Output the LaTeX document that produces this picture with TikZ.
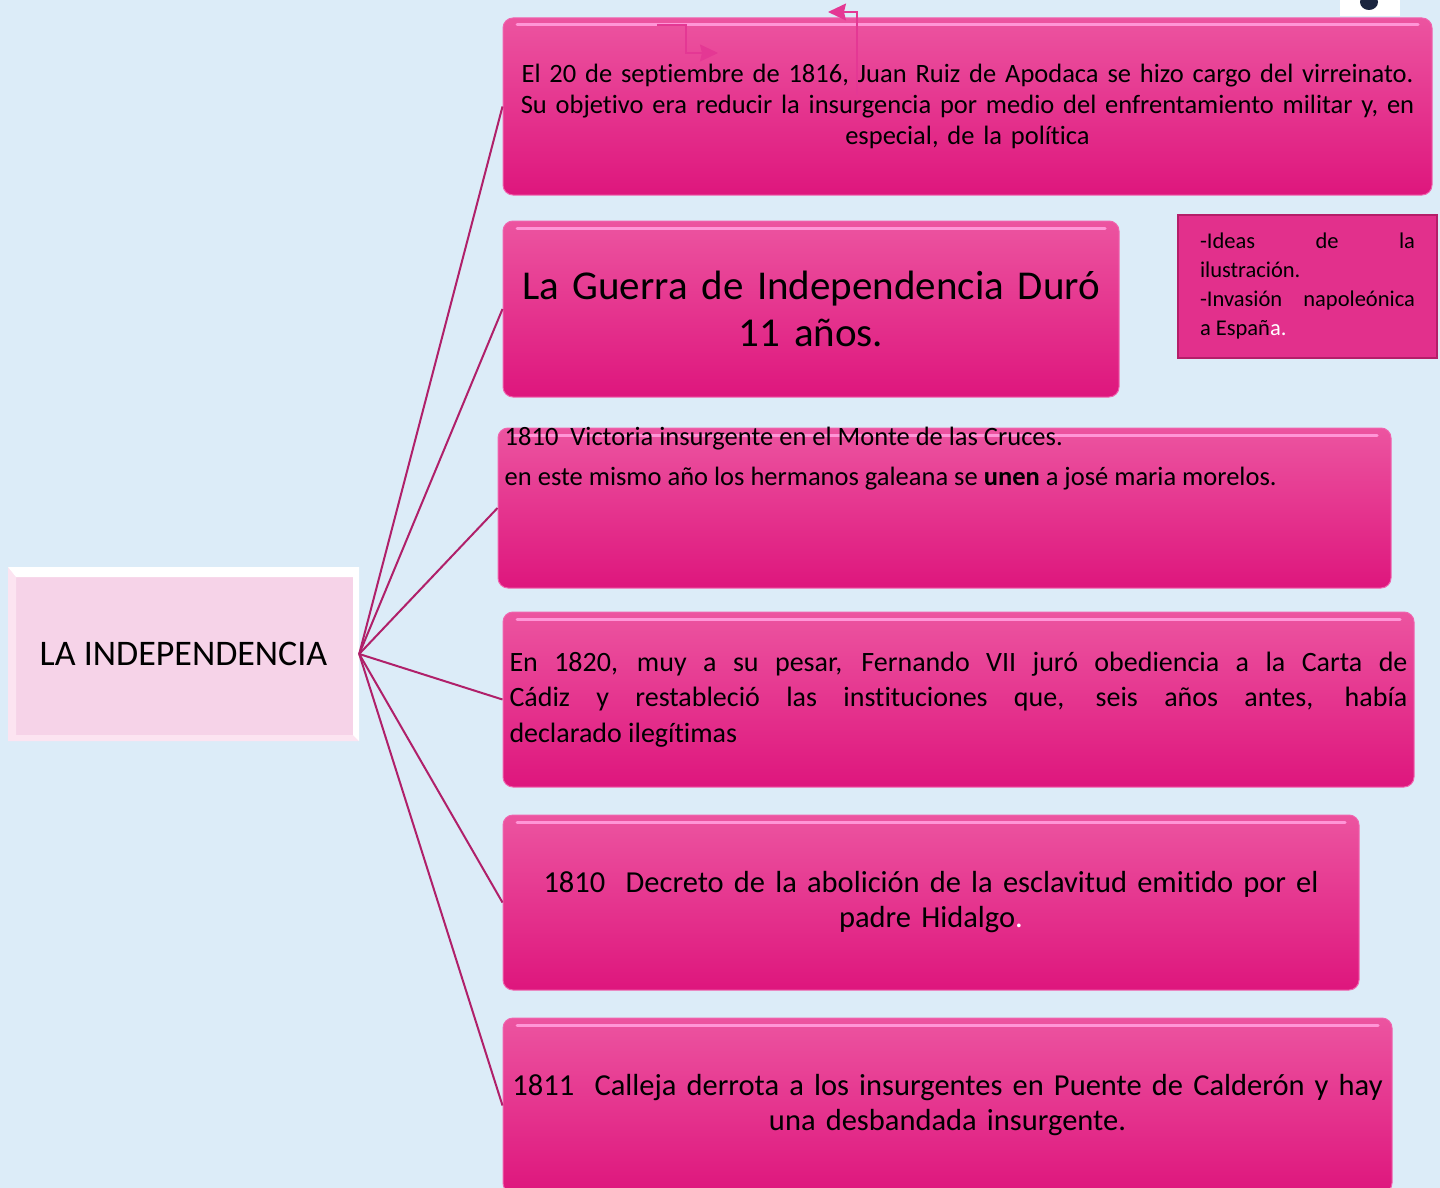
\documentclass[tikz,border=0pt]{standalone}
\usepackage{fontspec}
\setmainfont{Carlito}[Ligatures=NoCommon]
\usetikzlibrary{arrows.meta}
\definecolor{fondo}{RGB}{220,236,248}
\definecolor{rosaA}{RGB}{236,84,160}
\definecolor{rosaB}{RGB}{222,22,125}
\definecolor{brillo}{RGB}{255,150,215}
\definecolor{bordeRosa}{RGB}{240,100,175}
\definecolor{ramaColor}{RGB}{176,32,106}
\definecolor{centroRelleno}{RGB}{246,211,232}
\definecolor{centroBisel}{RGB}{252,228,241}
\definecolor{causasRelleno}{RGB}{226,48,140}
\definecolor{causasBorde}{RGB}{180,30,105}
\definecolor{flechaRosa}{RGB}{228,56,148}
\definecolor{marino}{RGB}{26,36,62}
\hyphenpenalty=10000
\exhyphenpenalty=10000
\tikzset{
  evento/.style={draw=bordeRosa, line width=1pt, rounded corners=10, top color=rosaA, bottom color=rosaB,
    inner xsep=0, inner ysep=0,
    path picture={\draw[brillo, line width=3, line cap=round]
      ([shift={(14,7)}]path picture bounding box.north west) -- ([shift={(-14,7)}]path picture bounding box.north east);}},
  centro/.style={fill=centroRelleno, minimum width=351, minimum height=174, inner sep=0,
    font=\fontsize{36}{40}\selectfont,
    path picture={
      \fill[centroBisel] (path picture bounding box.north west) -- (path picture bounding box.south west)
        -- (path picture bounding box.south east) -- ([shift={(-6,-6)}]path picture bounding box.south east)
        -- ([shift={(8,-6)}]path picture bounding box.south west) -- ([shift={(8,10)}]path picture bounding box.north west) -- cycle;
      \fill[white] (path picture bounding box.north west) -- (path picture bounding box.north east)
        -- (path picture bounding box.south east) -- ([shift={(-6,-6)}]path picture bounding box.south east)
        -- ([shift={(-6,10)}]path picture bounding box.north east) -- ([shift={(8,10)}]path picture bounding box.north west) -- cycle;}},
  causas/.style={fill=causasRelleno, draw=causasBorde, line width=2, minimum width=259, minimum height=143,
    text width=215, align=justify, font=\fontsize{22.5}{29}\selectfont},
  rama/.style={draw=ramaColor, line width=2},
  flecha/.style={draw=flechaRosa, line width=1.2, -{Stealth[length=18pt,width=17pt,inset=2pt]}}
}
\begin{document}
\begin{tikzpicture}[x=1pt,y=-1pt]
  \useasboundingbox (0,0) rectangle (1440,1188);
  \fill[fondo] (0,0) rectangle (1440,1188);
  \fill[white] (1340,0) rectangle (1400,16);  % esquina
  \fill[marino] (1369,2) ellipse [x radius=9, y radius=8];

  \node[centro] (indep) at (183.5,654) {LA INDEPENDENCIA};

  \node[evento, text width=929, minimum height=177, align=center, font=\fontsize{26.5}{31}\selectfont] (apodaca) at (967.5,106.5)
    {El 20 de septiembre de 1816, Juan Ruiz de Apodaca se hizo cargo del virreinato.\\ Su objetivo era reducir la insurgencia por medio del enfrentamiento militar y, en\\ especial, de la política};
  \node[evento, text width=616, minimum height=176, align=center, font=\fontsize{41}{47}\selectfont] (duracion) at (811,309)
    {La Guerra de Independencia Duró\\ 11 años.};
  \node[evento, text width=893, minimum height=160] (cruces) at (944.5,508) {};
  \node[anchor=north west, inner sep=0, align=left, font=\fontsize{26.5}{28}\selectfont] (crucesTexto) at ([shift={(7,-1)}]cruces.north west)
    {1810\ \ Victoria insurgente en el Monte de las Cruces.\\[12pt] en este mismo año los hermanos galeana se \textbf{unen} a josé maria morelos.};
  \node[evento, text width=898, inner xsep=6.5, minimum height=175, align=justify, font=\fontsize{28}{35.5}\selectfont] (carta) at (958.5,699.5)
    {En 1820, muy a su pesar, Fernando VII juró obediencia a la Carta de\linebreak Cádiz y restableció las instituciones que, seis años antes, había\linebreak declarado ilegítimas};
  \node[evento, text width=856, minimum height=175, align=center, font=\fontsize{30.5}{35}\selectfont] (decreto) at (931,902.5)
    {1810\ \ Decreto de la abolición de la esclavitud emitido por el\\ padre Hidalgo{\color{white}.}};
  \node[evento, text width=889, minimum height=175, align=center, font=\fontsize{30.5}{35}\selectfont] (calleja) at (947.5,1105.5)
    {1811\ \ Calleja derrota a los insurgentes en Puente de Calderón y hay\\ una desbandada insurgente.};

  \node[causas] (causas) at (1307.5,286.5)
    {-Ideas de la\linebreak ilustración.\par -Invasión napoleónica\linebreak a Españ{\color{white}a.}};

  \foreach \caja in {apodaca,duracion,cruces,carta,decreto,calleja}
    \draw[rama] (indep.east) -- (\caja.west);

  % flechas sueltas
  \coordinate (f1) at (657,25);
  \coordinate (f1fin) at (718,53);
  \draw[flecha] (f1) -- ++(29,0) |- (f1fin);
  \coordinate (f2) at (857,95);
  \coordinate (f2fin) at (828,12);
  \draw[flecha] (f2) |- (f2fin);
\end{tikzpicture}
\end{document}
